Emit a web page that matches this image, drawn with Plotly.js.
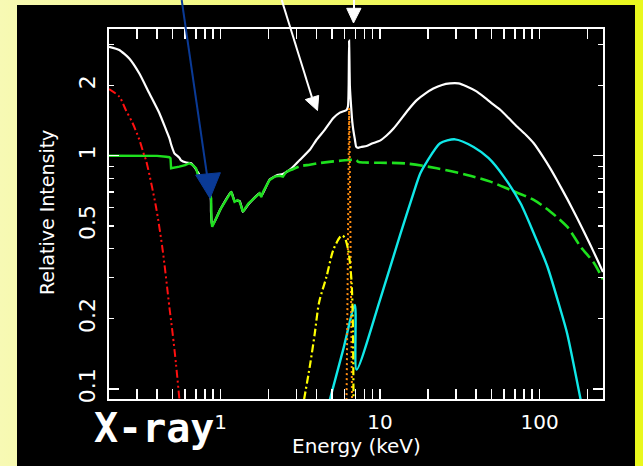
<!DOCTYPE html>
<html><head><meta charset="utf-8">
<script src="https://cdn.plot.ly/plotly-3.0.1.min.js"></script>
<style>
html,body{margin:0;padding:0;width:643px;height:466px;overflow:hidden;}
body{background:linear-gradient(to right,#f7f9b4 0%,#f1f86a 50%,#e9f81c 100%);}
#bg{position:absolute;left:17px;top:5px;width:618px;height:461px;background:#000;}
#chart{position:absolute;left:0;top:0;width:643px;height:466px;}
</style></head><body><div id="bg"></div><div id="chart"></div>
<script>
// ---- data ----
const totalE = [0.2,0.232,0.268,0.31,0.358,0.414,0.456,0.478,0.49,0.501,0.514,0.552,0.566,0.61,0.654,0.69,0.72,0.80,0.868,0.872,0.887,1.0,1.168,1.225,1.317,1.349,1.381,1.5,1.759,1.80,2.034,2.186,2.3,2.46,2.8,3.14,3.63,4.0,4.5,5.1,5.6,6.17,6.30,6.36,6.40,6.43,6.47,6.55,6.70,6.80,6.95,7.10,7.3,7.6,8.24,9.0,10.0,11.0,12.2,13.4,15.0,17.0,19.3,21.6,24.5,27.5,31,35,40,44.6,50,56.9,64,72.5,82,92,106.5,117,129,150,173,207,230,250];
const totalI = [2.93,2.84,2.61,2.25,1.85,1.52,1.29,1.19,1.12,1.07,1.024,0.98,0.955,0.935,0.928,0.89,0.85,0.76,0.66,0.575,0.50,0.59,0.70,0.64,0.64,0.61,0.575,0.62,0.69,0.67,0.79,0.815,0.827,0.835,0.885,0.958,1.06,1.17,1.29,1.45,1.53,1.57,1.63,2.0,3.11,2.6,2.0,1.73,1.40,1.29,1.18,1.09,1.08,1.09,1.10,1.13,1.16,1.22,1.31,1.42,1.57,1.73,1.85,1.94,2.01,2.04,2.04,1.98,1.89,1.79,1.68,1.57,1.45,1.33,1.23,1.13,0.976,0.88,0.783,0.648,0.537,0.418,0.359,0.317];

const absSoftE = [0.2,0.3,0.4,0.456,0.478,0.486,0.49,0.552,0.60,0.638,0.654,0.669,0.703,0.72,0.80,0.868,0.874,0.878,0.887,1.0,1.168,1.2,1.225,1.28,1.317,1.349,1.381,1.5,1.65,1.759,1.8,1.85,2.034,2.186,2.35,2.463,2.59];
const absSoftI = [1.0,1.0,0.998,0.99,0.985,0.975,0.883,0.897,0.91,0.928,0.92,0.912,0.883,0.83,0.75,0.66,0.657,0.52,0.496,0.59,0.701,0.66,0.635,0.645,0.635,0.605,0.575,0.625,0.665,0.69,0.665,0.70,0.787,0.813,0.82,0.813,0.854];
const absHardE = [2.59,2.78,3.14,3.63,4.2,5.1,6.36,7.1,7.3,8.0,10,14.4,22.7,35.1,49.2,65.7,92,117,149,181,220,248,250];
const absHardI = [0.854,0.87,0.90,0.915,0.93,0.945,0.958,0.96,0.94,0.935,0.932,0.927,0.883,0.827,0.774,0.713,0.646,0.575,0.496,0.407,0.346,0.298,0.295];

const reflE = [4.85,5.87,6.96,7.13,10,13.4,16.2,17.9,19.7,23.8,29.5,38.6,48,59.7,76,92,112,135,149,181];
const reflI = [0.09,0.147,0.229,0.121,0.241,0.46,0.69,0.84,0.943,1.13,1.175,1.09,0.975,0.813,0.625,0.465,0.335,0.22,0.173,0.09];

const softE = [0.2,0.232,0.255,0.281,0.31,0.333,0.341,0.394,0.434,0.478,0.501,0.526,0.552];
const softI = [1.93,1.79,1.57,1.38,1.17,1.0,0.958,0.604,0.394,0.225,0.173,0.128,0.091];

const bumpE = [3.34,3.63,3.9,4.15,4.62,5.09,5.6,5.8,6.03,6.32,6.5,6.64,6.75,6.82];
const bumpI = [0.09,0.125,0.173,0.235,0.303,0.394,0.447,0.455,0.443,0.394,0.34,0.284,0.2,0.09];

const lineE = [6.10,6.17,6.24,6.28,6.32,6.36,6.40,6.44,6.48,6.52,6.57,6.64,6.70];
const lineI = [0.07,0.09,0.2,0.35,0.65,1.15,1.6,1.2,0.7,0.4,0.22,0.1,0.07];

const xTickVals = [1,10,100];
const xTickText = ['1','10','100'];
const xMinorVals = [0.3,0.4,0.5,0.6,0.7,0.8,0.9,2,3,4,5,6,7,8,9,20,30,40,50,60,70,80,90,200];
const yTickVals = [0.1,0.2,0.5,1,2];
const yTickText = ['0.1','0.2','0.5','1','2'];
const yMinorVals = [0.3,0.4,0.6,0.7,0.8,0.9,3];
const yDecadeVals = [0.1,1];

// ---- traces ----
const traces = [
  {x:totalE,y:totalI,mode:'lines',line:{color:'#ffffff',width:2.2,shape:'spline',smoothing:0.5},hoverinfo:'skip'},
  {x:absSoftE,y:absSoftI,mode:'lines',line:{color:'#1ee01e',width:2.4},hoverinfo:'skip'},
  {x:absHardE,y:absHardI,mode:'lines',line:{color:'#1ee01e',width:2.6,dash:'13px,5px',shape:'spline',smoothing:0.8},hoverinfo:'skip'},
  {x:reflE,y:reflI,mode:'lines',line:{color:'#10e8e8',width:2.4,shape:'spline',smoothing:0.7},hoverinfo:'skip'},
  {x:lineE,y:lineI,mode:'lines',line:{color:'#ff8c10',width:2,dash:'2px,3px'},hoverinfo:'skip'},
  {x:bumpE,y:bumpI,mode:'lines',line:{color:'#ffff00',width:2.2,dash:'8px,3px,2px,3px',shape:'spline',smoothing:0.8},hoverinfo:'skip'},
  {x:softE,y:softI,mode:'lines',line:{color:'#ff1010',width:2,dash:'8px,3px,2px,3px,2px,3px',shape:'spline',smoothing:0.8},hoverinfo:'skip'},
  {x:[],y:[],yaxis:'y2',mode:'lines',hoverinfo:'skip'}
];

// paper coordinate helpers for decorations (pixel -> paper)
const L=109, T=29, W=494, H=370;
const px = v => (v-L)/W, py = v => (T+H-v)/H;
const tri = (a,b,c) => `M ${px(a[0])} ${py(a[1])} L ${px(b[0])} ${py(b[1])} L ${px(c[0])} ${py(c[1])} Z`;

const yr = [-1.043, 0.543];
const layout = {
  width:643, height:466,
  margin:{l:L, r:643-L-W, t:T, b:466-T-H, pad:0},
  paper_bgcolor:'rgba(0,0,0,0)', plot_bgcolor:'rgba(0,0,0,0)',
  showlegend:false,
  font:{family:'DejaVu Sans', color:'#ffffff', size:20},
  xaxis:{type:'log', range:[Math.log10(0.2), Math.log10(250)], showgrid:false, zeroline:false,
    showline:true, linecolor:'#ffffff', linewidth:2, mirror:'allticks',
    ticks:'inside', ticklen:10, tickwidth:1.5, tickcolor:'#ffffff',
    tickmode:'array', tickvals:xTickVals, ticktext:xTickText, ticklabelstandoff:4,
    tickfont:{family:'DejaVu Sans', size:20, color:'#ffffff'},
    minor:{ticks:'inside', ticklen:5, tickwidth:1.5, tickcolor:'#ffffff', tickmode:'array', tickvals:xMinorVals, showgrid:false}
  },
  yaxis:{type:'log', range:yr, showgrid:false, zeroline:false,
    showline:true, linecolor:'#ffffff', linewidth:2, mirror:'allticks',
    ticks:'inside', ticklen:5, tickwidth:1.5, tickcolor:'#ffffff',
    tickmode:'array', tickvals:yTickVals, ticktext:yTickText, tickangle:-90, ticklabelstandoff:3,
    tickfont:{family:'DejaVu Sans', size:22, color:'#ffffff'},
    minor:{ticks:'inside', ticklen:5, tickwidth:1.5, tickcolor:'#ffffff', tickmode:'array', tickvals:yMinorVals, showgrid:false}
  },
  yaxis2:{type:'log', range:yr, overlaying:'y', side:'left', showgrid:false, zeroline:false,
    showline:false, mirror:'ticks', ticks:'inside', ticklen:10, tickwidth:1.5, tickcolor:'#ffffff',
    tickmode:'array', tickvals:yDecadeVals, showticklabels:false},
  annotations:[
    {text:'Energy (keV)', xref:'paper', yref:'paper', x:0.5, y:py(446), xanchor:'center', yanchor:'middle', showarrow:false, font:{family:'DejaVu Sans', size:20, color:'#ffffff'}},
    {text:'Relative Intensity', xref:'paper', yref:'paper', x:px(47), y:py(213), xanchor:'center', yanchor:'middle', textangle:-90, showarrow:false, font:{family:'DejaVu Sans', size:19, color:'#ffffff'}},
    {text:'X-ray', xref:'paper', yref:'paper', x:px(92), y:py(428), xanchor:'left', yanchor:'middle', showarrow:false, font:{family:'DejaVu Sans Mono', size:40, weight:'bold', color:'#ffffff'}}
  ],
  shapes:[
    {type:'line', xref:'paper', yref:'paper', x0:px(181.7), y0:py(0), x1:px(207), y1:py(175), line:{color:'#0a3a96', width:2}, layer:'above'},
    {type:'path', xref:'paper', yref:'paper', path:tri([195.7,175],[220.4,172.7],[210,198.3]), fillcolor:'#0a3a96', line:{color:'#0a3a96', width:1}, layer:'above'},
    {type:'line', xref:'paper', yref:'paper', x0:px(281.7), y0:py(0), x1:px(312), y1:py(97.5), line:{color:'#ffffff', width:2}, layer:'above'},
    {type:'path', xref:'paper', yref:'paper', path:tri([305.3,99.6],[318.7,95.4],[317.5,110.5]), fillcolor:'#ffffff', line:{color:'#ffffff', width:1}, layer:'above'},
    {type:'line', xref:'paper', yref:'paper', x0:px(354), y0:py(0), x1:px(354), y1:py(9), line:{color:'#ffffff', width:2}, layer:'above'},
    {type:'path', xref:'paper', yref:'paper', path:tri([346.7,8.3],[361,8.3],[353.5,23]), fillcolor:'#ffffff', line:{color:'#ffffff', width:1}, layer:'above'}
  ]
};

Plotly.newPlot('chart', traces, layout, {displayModeBar:false, staticPlot:true});
</script></body></html>
